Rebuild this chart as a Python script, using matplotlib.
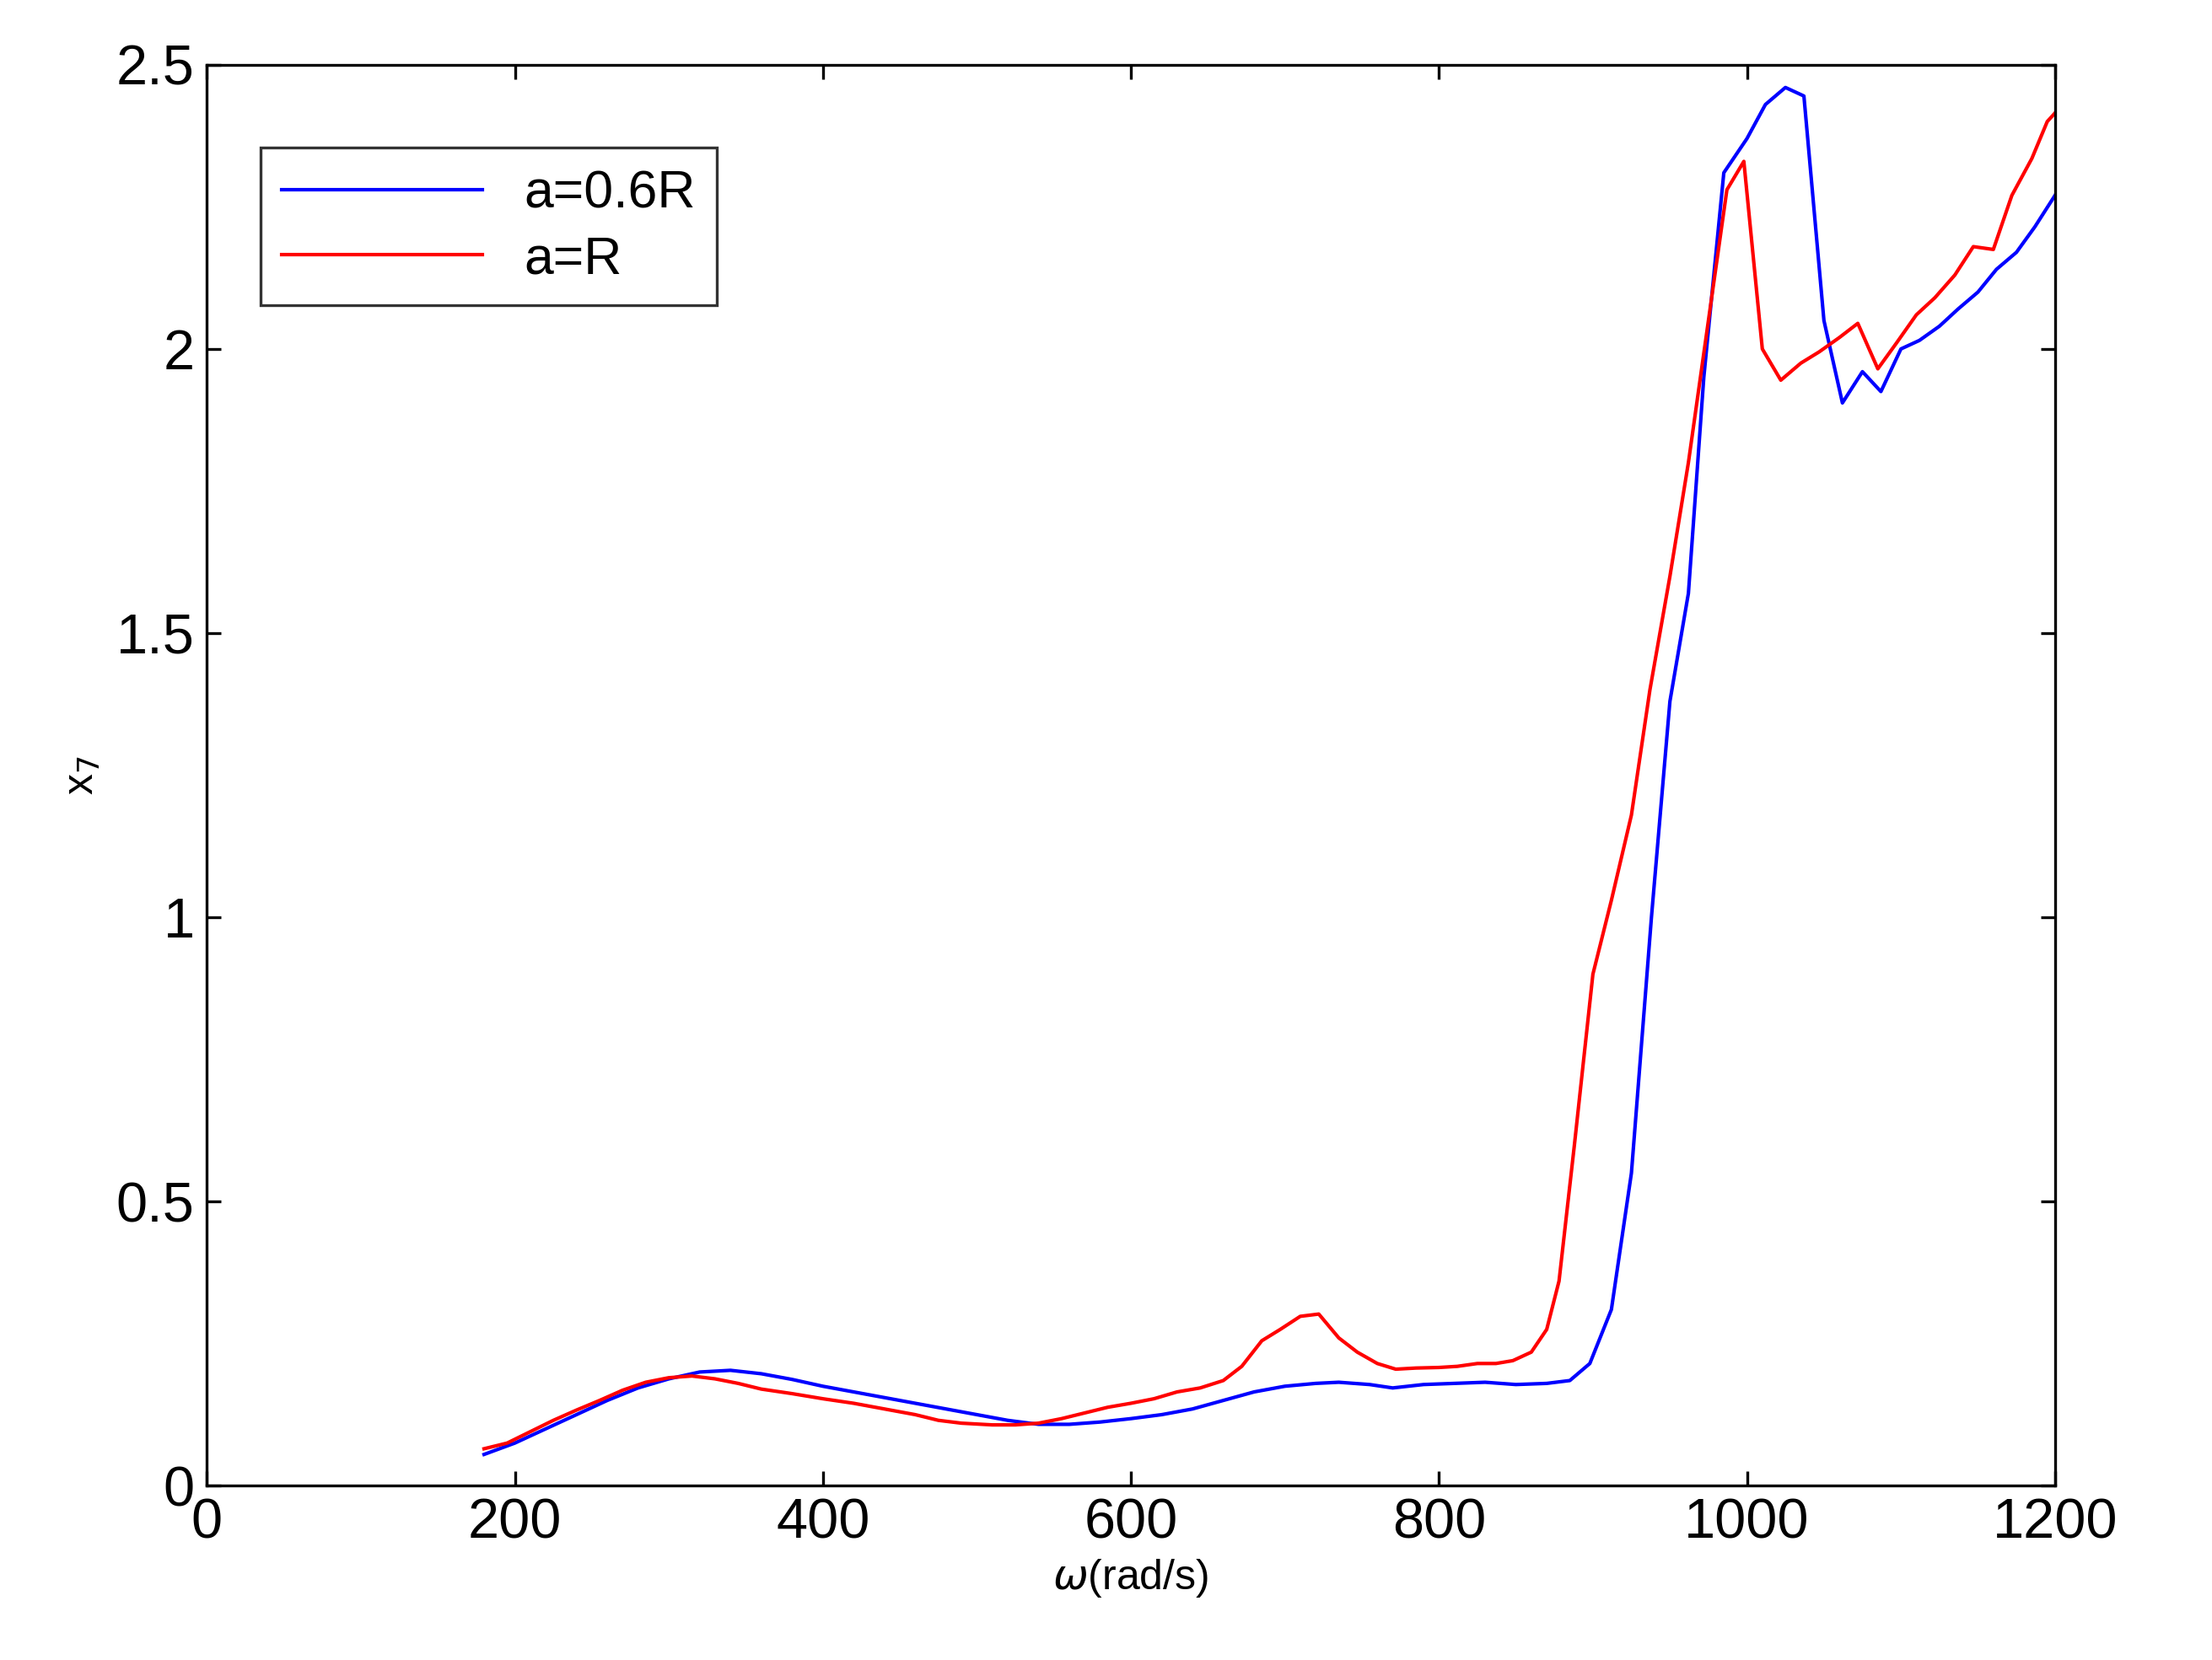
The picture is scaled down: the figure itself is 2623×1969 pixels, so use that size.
import numpy as np
import matplotlib.pyplot as plt
import matplotlib

matplotlib.rc('font', family=['Liberation Sans', 'DejaVu Sans'], size=16)

# a=0.6R
w_blue = [180, 200, 220, 240, 260, 280, 300, 320, 340, 360, 380, 400, 420, 440, 460, 480,
          500, 520, 540, 560, 580, 600, 620, 640, 660, 680, 700, 720, 735, 755, 770, 790,
          810, 830, 850, 870, 885, 898, 912, 925, 938, 950, 962, 972, 985, 1000, 1012, 1025,
          1037, 1050, 1062, 1075, 1087, 1100, 1112, 1125, 1137, 1150, 1162, 1175, 1187, 1200]
x_blue = [0.055, 0.075, 0.10, 0.125, 0.15, 0.172, 0.188, 0.2, 0.203, 0.197, 0.187, 0.175,
          0.165, 0.155, 0.145, 0.135, 0.125, 0.115, 0.108, 0.108, 0.112, 0.118, 0.125, 0.135,
          0.15, 0.165, 0.175, 0.18, 0.182, 0.178, 0.172, 0.178, 0.18, 0.182, 0.178, 0.18,
          0.185, 0.215, 0.31, 0.55, 1.0, 1.38, 1.57, 1.95, 2.31, 2.37, 2.43, 2.46, 2.445,
          2.05, 1.905, 1.96, 1.925, 2.0, 2.015, 2.04, 2.07, 2.1, 2.14, 2.17, 2.215, 2.27]

# a=R
w_red = [180, 195, 210, 225, 240, 255, 270, 285, 300, 315, 330, 345, 360, 380, 400, 420,
         440, 460, 475, 490, 510, 525, 540, 555, 570, 585, 600, 615, 630, 645, 660, 672,
         685, 697, 710, 722, 735, 747, 760, 772, 785, 800, 812, 825, 837, 848, 860, 870,
         878, 888, 900, 912, 925, 937, 950, 962, 975, 987, 998, 1010, 1022, 1035, 1047,
         1060, 1072, 1085, 1097, 1110, 1122, 1135, 1147, 1160, 1172, 1185, 1195, 1200]
x_red = [0.065, 0.075, 0.095, 0.115, 0.133, 0.15, 0.168, 0.182, 0.19, 0.193, 0.188, 0.18,
         0.17, 0.162, 0.153, 0.145, 0.135, 0.125, 0.115, 0.11, 0.107, 0.107, 0.11, 0.118,
         0.128, 0.138, 0.145, 0.153, 0.165, 0.172, 0.185, 0.21, 0.255, 0.275, 0.298, 0.302,
         0.26, 0.235, 0.215, 0.205, 0.207, 0.208, 0.21, 0.215, 0.215, 0.22, 0.235, 0.275,
         0.36, 0.6, 0.9, 1.03, 1.18, 1.4, 1.6, 1.8, 2.05, 2.28, 2.33, 2.0, 1.945, 1.975,
         1.995, 2.02, 2.045, 1.965, 2.01, 2.06, 2.09, 2.13, 2.18, 2.175, 2.27, 2.335, 2.4, 2.415]

fig = plt.figure(figsize=(2623/300, 1969/300), dpi=300)
ax = fig.add_axes([0.0935, 0.105, 0.8355, 0.856])
ax.plot(w_blue, x_blue, color='#0000ff', lw=1.0, label='a=0.6R')
ax.plot(w_red, x_red, color='#ff0000', lw=1.0, label='a=R')
ax.set_xlim(0, 1200)
ax.set_ylim(0, 2.5)
ax.set_xticks([0, 200, 400, 600, 800, 1000, 1200])
ax.set_yticks([0, 0.5, 1, 1.5, 2, 2.5])
ax.set_yticklabels(['0', '0.5', '1', '1.5', '2', '2.5'])
ax.tick_params(direction='in', top=True, right=True, length=4, width=0.8)
for s in ax.spines.values():
    s.set_linewidth(0.8)
ax.set_xlabel(r'$\omega$(rad/s)', fontsize=12, labelpad=2)
ax.set_ylabel(r'x$_7$', fontsize=12)
leg = ax.legend(loc='upper left', bbox_to_anchor=(0.015, 0.96), fancybox=False,
                edgecolor='black', handlelength=3.8, borderpad=0.4, fontsize=15,
                labelspacing=0.3)
leg.get_frame().set_linewidth(0.8)
fig.savefig('out.png', dpi=300)
